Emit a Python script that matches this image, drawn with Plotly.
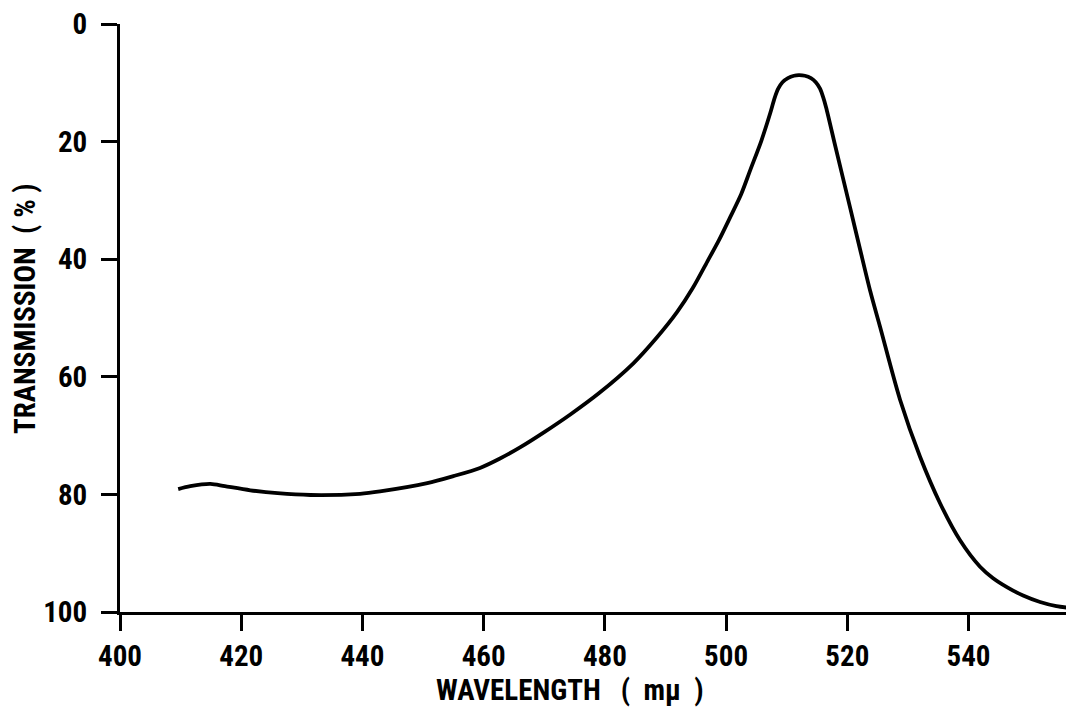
import plotly.graph_objects as go

# transmission curve
wavelength = [409.6, 411.6, 414.9, 417.3, 421.5, 426.0, 431.4, 439.6, 442.9, 450.7,
              455.0, 459.4, 462.7, 466.0, 470.0, 474.3, 479.0, 484.7, 488.5, 491.9,
              494.5, 496.9, 498.8, 500.7, 502.5, 504.0, 505.8, 507.3, 508.0, 508.6,
              509.3, 510.2, 511.2, 512.0, 513.0, 514.0, 514.8, 515.5, 516.0, 516.5,
              518.0, 520.5, 522.1, 523.8, 525.4, 528.7, 532.0, 535.3, 538.6, 541.9,
              544.0, 546.4, 549.0, 551.8, 554.5, 557.4]
transmission = [79.1, 78.6, 78.2, 78.6, 79.3, 79.8, 80.1, 79.9, 79.5, 78.1,
                76.9, 75.5, 73.9, 72.0, 69.4, 66.4, 62.8, 57.7, 53.4, 49.0,
                44.9, 40.4, 36.8, 32.8, 28.9, 24.8, 19.9, 15.1, 12.6, 11.0,
                9.9, 9.2, 8.8, 8.7, 8.8, 9.2, 9.9, 11.0, 12.4, 14.2,
                20.7, 31.4, 38.3, 45.5, 51.5, 63.9, 73.6, 81.5, 87.8, 92.3,
                94.2, 95.8, 97.2, 98.3, 99.0, 99.4]

x_ticks = [400, 420, 440, 460, 480, 500, 520, 540]
y_ticks = [0, 20, 40, 60, 80, 100]

font_family = "Roboto Condensed, Open Sans Condensed, Liberation Sans Narrow, DejaVu Sans Condensed, sans-serif"
label_font = dict(family=font_family, size=29, color="black", weight="bold")

fig = go.Figure()
fig.add_trace(go.Scatter(x=wavelength, y=transmission, mode="lines",
                         line=dict(color="black", width=3.8, shape="spline", smoothing=0.8),
                         showlegend=False, hoverinfo="skip"))

axis_style = dict(showgrid=False, zeroline=False, showline=True, linecolor="black",
                  linewidth=3, ticks="outside", ticklen=16, tickwidth=3, tickcolor="black",
                  tickfont=label_font, automargin=False, ticklabeloverflow="allow")

# page body adds an 8px offset, so the figure is sized to fit the window
fig.update_layout(
    width=1066, height=718,
    margin=dict(l=112, r=0, t=16, b=114),
    plot_bgcolor="white", paper_bgcolor="white",
    xaxis=dict(range=[400, 557.4], tickvals=x_ticks, ticklabelstandoff=0, **axis_style),
    yaxis=dict(range=[100, -0.001], tickvals=y_ticks, ticklabelstandoff=8, **axis_style),
)

fig.add_annotation(text="WAVELENGTH   (  mμ  )", xref="paper", yref="paper",
                   x=(570 - 120) / 954, y=0, yshift=-78, xanchor="center", yanchor="middle",
                   showarrow=False, font=label_font)
fig.add_annotation(text="TRANSMISSION  ( % )", xref="paper", yref="paper",
                   x=0, xshift=-95, y=(612 - 309) / 588, xanchor="center", yanchor="middle",
                   textangle=-90, showarrow=False, font=label_font)

fig.write_html("out.html")
